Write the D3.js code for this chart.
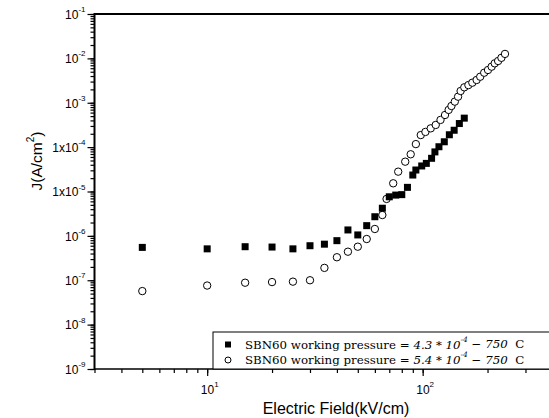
<!DOCTYPE html>
<html><head><meta charset="utf-8">
<script src="https://cdn.jsdelivr.net/npm/d3@7"></script>
<style>body{margin:0;background:#fff} svg{display:block}</style>
</head><body><svg id="c" width="549" height="418"></svg>
<script>
// ---- data ----
const filledField = [5,10,15,20,25,30,35,40,45,50,55,60,65,70,75,80,85,90,93,99,104,110,114,119,126,133,140,148,156];
const filledJ = [5.5e-7,5.1e-7,5.7e-7,5.6e-7,5.1e-7,6.0e-7,6.5e-7,7.8e-7,1.36e-6,1.05e-6,1.7e-6,2.7e-6,4.2e-6,7.6e-6,8.3e-6,8.5e-6,1.24e-5,2.35e-5,3.05e-5,3.76e-5,4.3e-5,5.6e-5,7.8e-5,1.02e-4,1.32e-4,1.9e-4,2.4e-4,3.4e-4,4.5e-4];
const openField = [5,10,15,20,25,30,35,40,45,50,55,60,65,68,73,77,83,88,93,98,103,109,115,121,127,132,136,141,146,150,156,163,170,178,185,193,201,209,216,224,232,241];
const openJ = [5.7e-8,7.6e-8,8.8e-8,9.1e-8,9.3e-8,1.0e-7,1.9e-7,3.3e-7,4.4e-7,5.7e-7,8.5e-7,1.43e-6,2.95e-6,6.8e-6,1.53e-5,2.8e-5,4.7e-5,6.9e-5,1.17e-4,1.87e-4,2.2e-4,2.65e-4,3.16e-4,4.1e-4,5.3e-4,6.9e-4,8.45e-4,1.06e-3,1.37e-3,1.84e-3,2.23e-3,2.5e-3,2.83e-3,3.26e-3,3.86e-3,4.75e-3,5.47e-3,6.5e-3,7.74e-3,8.73e-3,1.03e-2,1.26e-2];
const yTickValues = [1e-1,1e-2,1e-3,1e-4,1e-5,1e-6,1e-7,1e-8,1e-9];
const yTickBase = ["10","10","10","1x10","1x10","10","10","10","10"];
const yTickExp = ["-1","-2","-3","-4","-5","-6","-7","-8","-9"];
const xTickValues = [10,100];
const xTickBase = ["10","10"];
const xTickExp = ["1","2"];
const legendLabels = [
  {pre:"SBN60 working pressure = ", num:"4.3 * 10", exp:"-4", post:" \u2212 750", unit:"  C"},
  {pre:"SBN60 working pressure = ", num:"5.4 * 10", exp:"-4", post:" \u2212 750", unit:"  C"}
];
const xTitle = "Electric Field(kV/cm)";

// ---- chart ----
const svg = d3.select("#c");
const x = d3.scaleLog().domain([3,400]).range([94.5,552.4]);
const y = d3.scaleLog().domain([1e-9,1e-1]).range([369,14]);
const sans = "'Liberation Sans', Arial, sans-serif";

// minor ticks
const gyMin = svg.append("g").attr("transform",`translate(${x.range()[0]},0)`)
  .call(d3.axisLeft(y).tickValues(y.ticks()).tickSize(4).tickFormat(()=>""));
gyMin.select(".domain").remove();
const gxMin = svg.append("g").attr("transform",`translate(0,${y.range()[0]})`)
  .call(d3.axisBottom(x).tickValues(x.ticks().filter(v=>v<=400)).tickSize(4).tickFormat(()=>""));
gxMin.select(".domain").remove();

// major ticks with labels
const gy = svg.append("g").attr("transform",`translate(${x.range()[0]},0)`)
  .call(d3.axisLeft(y).tickValues(yTickValues).tickSize(7).tickPadding(2).tickFormat(()=>""));
gy.select(".domain").remove();
gy.selectAll(".tick text").each(function(d,i){
  const t = d3.select(this).attr("font-family",sans).attr("font-size",12).attr("fill","#000").attr("dy","0.36em");
  t.append("tspan").text(yTickBase[i]);
  t.append("tspan").attr("font-size",8).attr("dy","-0.85em").text(yTickExp[i]);
});
const gx = svg.append("g").attr("transform",`translate(0,${y.range()[0]})`)
  .call(d3.axisBottom(x).tickValues(xTickValues).tickSize(7).tickPadding(9).tickFormat(()=>""));
gx.select(".domain").remove();
gx.selectAll(".tick text").each(function(d,i){
  const t = d3.select(this).attr("font-family",sans).attr("font-size",12).attr("fill","#000").attr("dx","2");
  t.append("tspan").text(xTickBase[i]);
  t.append("tspan").attr("font-size",8).attr("dy","-0.85em").text(xTickExp[i]);
});
svg.selectAll(".tick line").attr("stroke","#000").attr("stroke-width",1.2);

// frame
const [x0,x1] = x.range(), [yb,yt] = y.range();
svg.append("line").attr("x1",x0).attr("x2",x0).attr("y1",yt-1).attr("y2",yb+1).attr("stroke","#000").attr("stroke-width",2);
svg.append("line").attr("x1",x0).attr("x2",x1).attr("y1",yt).attr("y2",yt).attr("stroke","#000").attr("stroke-width",2);
svg.append("line").attr("x1",x0).attr("x2",x1).attr("y1",yb).attr("y2",yb).attr("stroke","#000").attr("stroke-width",1.5);

// data
svg.append("g").selectAll("circle").data(openField.map((f,i)=>[f,openJ[i]])).join("circle")
  .attr("cx",d=>x(d[0])).attr("cy",d=>y(d[1])).attr("r",3.7)
  .attr("fill","#fff").attr("stroke","#000").attr("stroke-width",1);
svg.append("g").selectAll("rect").data(filledField.map((f,i)=>[f,filledJ[i]])).join("rect")
  .attr("x",d=>x(d[0])-3.5).attr("y",d=>y(d[1])-3.5).attr("width",7).attr("height",7)
  .attr("fill","#000");

// legend
const lg = svg.append("g");
lg.append("rect").attr("x",213).attr("y",332).attr("width",360).attr("height",yb-332)
  .attr("fill","#fff").attr("stroke","#000").attr("stroke-width",1);
const serif = "'DejaVu Serif', 'Liberation Serif', serif";
legendLabels.forEach((L,i)=>{
  const cy = 344.5 + i*15.5;
  if(i===0) lg.append("rect").attr("x",225).attr("y",cy-3).attr("width",6).attr("height",6).attr("fill","#000");
  else lg.append("circle").attr("cx",228).attr("cy",cy).attr("r",3).attr("fill","#fff").attr("stroke","#000");
  const t = lg.append("text").attr("x",245).attr("y",cy+4).attr("font-family",serif).attr("font-size",11.8).attr("fill","#000")
    .attr("xml:space","preserve");
  t.append("tspan").text(L.pre);
  t.append("tspan").attr("font-style","italic").text(L.num);
  t.append("tspan").attr("font-style","italic").attr("font-size",7.5).attr("dy","-0.9em").text(L.exp);
  t.append("tspan").attr("font-style","italic").attr("dy","0.57em").text(L.post);
  t.append("tspan").text(L.unit);
});

// titles
svg.append("text").attr("x",336).attr("y",414).attr("text-anchor","middle")
  .attr("font-family",sans).attr("font-size",16).attr("fill","#000").text(xTitle);
const yt2 = svg.append("text").attr("transform","translate(42,161) rotate(-90)").attr("text-anchor","middle")
  .attr("font-family",sans).attr("font-size",15.5).attr("fill","#000");
yt2.append("tspan").text("J(A/cm");
yt2.append("tspan").attr("font-size",10).attr("dy","-0.8em").text("2");
yt2.append("tspan").attr("dy","0.52em").text(")");
</script></body></html>
